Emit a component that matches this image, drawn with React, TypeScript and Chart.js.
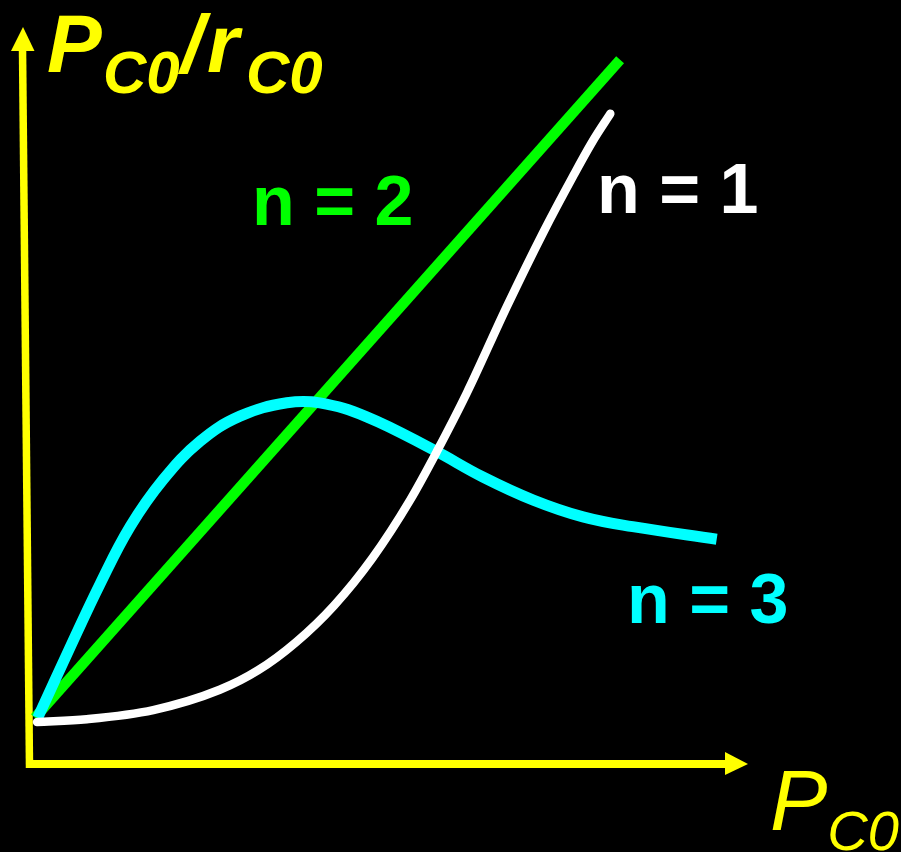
import React, { useEffect, useRef } from "react";
import { Chart, registerables } from "chart.js";

Chart.register(...registerables);

// Straight line, n = 2
const n2X = [0.07, 8.43];
const n2Y = [0.66, 10.06];

// S-shaped curve, n = 1
const n1X = [0.1, 0.81, 1.76, 2.71, 3.26, 3.8, 4.34, 4.89, 5.43, 5.81, 6.24, 6.81, 7.33, 7.76, 8.04, 8.29];
const n1Y = [0.6, 0.64, 0.77, 1.06, 1.34, 1.74, 2.26, 2.94, 3.77, 4.46, 5.3, 6.53, 7.59, 8.4, 8.9, 9.29];

// Humped curve, n = 3
const n3X = [0.11, 0.57, 1.0, 1.43, 1.9, 2.43, 3.0, 3.67, 4.14, 4.81, 5.76, 6.47, 7.19, 7.9, 8.61, 9.81];
const n3Y = [0.66, 1.66, 2.57, 3.39, 4.06, 4.61, 4.97, 5.16, 5.16, 4.96, 4.49, 4.1, 3.77, 3.53, 3.39, 3.21];

const seriesLabels = ["n = 1", "n = 2", "n = 3"];

const YELLOW = "#ffff00";
const WHITE = "#ffffff";
const GREEN = "#00ff00";
const CYAN = "#00ffff";
const FONT = "'Liberation Sans', Arial, sans-serif";

const toPoints = (xs: number[], ys: number[]) => xs.map((x, i) => ({ x, y: ys[i] }));

// Yellow arrowed axes, drawn beneath the curves
const axesPlugin = {
  id: "arrowAxes",
  beforeDatasetsDraw(chart: any) {
    const { ctx, scales } = chart;
    const ox = scales.x.getPixelForValue(0);
    const oy = scales.y.getPixelForValue(0);
    ctx.save();
    ctx.strokeStyle = YELLOW;
    ctx.fillStyle = YELLOW;
    ctx.lineCap = "butt";

    // vertical axis
    ctx.lineWidth = 7.5;
    ctx.beginPath();
    ctx.moveTo(ox - 7.5, 48);
    ctx.lineTo(ox - 0.5, oy + 4);
    ctx.stroke();
    ctx.beginPath();
    ctx.moveTo(ox - 7, 27);
    ctx.lineTo(ox - 19, 51);
    ctx.lineTo(ox + 4.5, 51);
    ctx.closePath();
    ctx.fill();

    // horizontal axis
    ctx.lineWidth = 8;
    ctx.beginPath();
    ctx.moveTo(ox - 4, oy);
    ctx.lineTo(ox + 697, oy);
    ctx.stroke();
    ctx.beginPath();
    ctx.moveTo(ox + 718, oy);
    ctx.lineTo(ox + 695, oy - 12);
    ctx.lineTo(ox + 695, oy + 11);
    ctx.closePath();
    ctx.fill();
    ctx.restore();
  },
};

// Axis titles and curve labels
const textPlugin = {
  id: "curveText",
  afterDatasetsDraw(chart: any) {
    const { ctx } = chart;
    ctx.save();
    ctx.textBaseline = "alphabetic";
    ctx.textAlign = "left";

    // y-axis title: P_C0 / r_C0
    ctx.fillStyle = YELLOW;
    const big = `italic bold 82px ${FONT}`;
    const sub = `italic bold 60px ${FONT}`;
    ctx.font = big;
    ctx.fillText("P", 47, 72);
    ctx.fillText("/", 181, 72);
    ctx.fillText("r", 207, 72);
    ctx.font = sub;
    ctx.fillText("C0", 103, 93);
    ctx.fillText("C0", 246, 93);

    // x-axis title: P_C0
    ctx.font = `italic 86px ${FONT}`;
    ctx.fillText("P", 770, 830);
    const px = 770 + ctx.measureText("P").width;
    ctx.font = `italic 56px ${FONT}`;
    ctx.fillText("C0", px, 850);

    // curve labels
    ctx.font = `bold 70px ${FONT}`;
    ctx.fillStyle = WHITE;
    ctx.fillText(seriesLabels[0], 597, 213);
    ctx.fillStyle = GREEN;
    ctx.fillText(seriesLabels[1], 252, 225);
    ctx.fillStyle = CYAN;
    ctx.fillText(seriesLabels[2], 627, 623);
    ctx.restore();
  },
};

export default function App() {
  const canvasRef = useRef<HTMLCanvasElement | null>(null);

  useEffect(() => {
    document.body.style.background = "#000";
    const canvas = canvasRef.current;
    if (!canvas) return;
    const chart = new Chart(canvas, {
      type: "scatter",
      data: {
        datasets: [
          {
            label: seriesLabels[0],
            data: toPoints(n1X, n1Y),
            showLine: true,
            borderColor: WHITE,
            borderWidth: 8.5,
            borderCapStyle: "round",
            cubicInterpolationMode: "monotone",
            pointRadius: 0,
            clip: false,
            order: 0,
          },
          {
            label: seriesLabels[2],
            data: toPoints(n3X, n3Y),
            showLine: true,
            borderColor: CYAN,
            borderWidth: 11,
            borderCapStyle: "butt",
            tension: 0.4,
            pointRadius: 0,
            clip: false,
            order: 1,
          },
          {
            label: seriesLabels[1],
            data: toPoints(n2X, n2Y),
            showLine: true,
            borderColor: GREEN,
            borderWidth: 10.5,
            borderCapStyle: "butt",
            tension: 0,
            pointRadius: 0,
            clip: false,
            order: 2,
          },
        ],
      } as any,
      options: {
        responsive: false,
        animation: false,
        devicePixelRatio: 1,
        layout: { padding: { left: 30, right: 171, top: 64, bottom: 88 } },
        scales: {
          x: { type: "linear", min: 0, max: 10, display: false },
          y: { type: "linear", min: 0, max: 10, display: false },
        },
        plugins: {
          legend: { display: false },
          tooltip: { enabled: false },
        },
      } as any,
      plugins: [axesPlugin, textPlugin],
    });
    return () => chart.destroy();
  }, []);

  return (
    <div style={{ position: "absolute", left: 0, top: 0, width: 901, height: 852, background: "#000" }}>
      <canvas ref={canvasRef} width={901} height={852} style={{ display: "block" }} />
    </div>
  );
}
